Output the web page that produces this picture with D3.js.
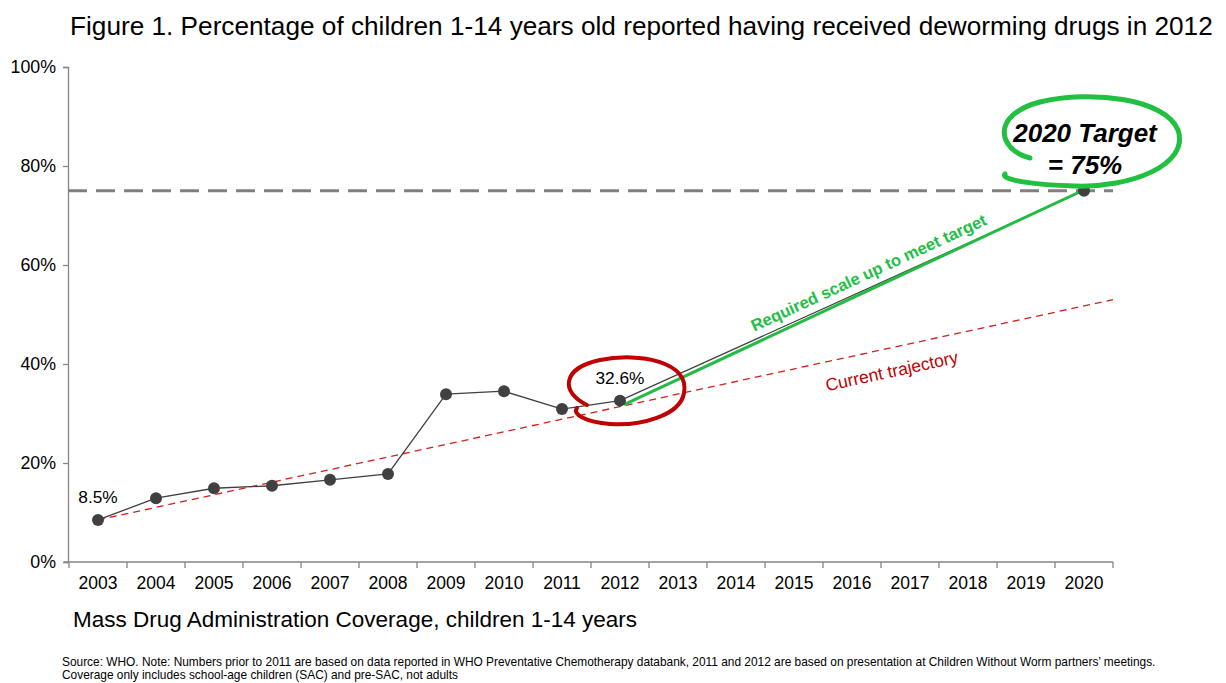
<!DOCTYPE html>
<html><head><meta charset="utf-8">
<script src="https://cdn.jsdelivr.net/npm/d3@7"></script>
<style>body{margin:0;background:#fff}svg{display:block}text{font-family:"Liberation Sans",Arial,sans-serif}</style>
</head><body>
<svg id="c" width="1226" height="683"></svg>
<script>
const years = ["2003","2004","2005","2006","2007","2008","2009","2010","2011","2012","2013","2014","2015","2016","2017","2018","2019","2020"];
const obsYears = ["2003","2004","2005","2006","2007","2008","2009","2010","2011","2012","2020"];
const coverage = [8.5,12.9,14.9,15.4,16.6,17.8,33.9,34.5,30.9,32.6,75];
const yTicks = [0,20,40,60,80,100];
const target = 75;
const trajectoryYears = [2003, 2020.5];
const trajectoryValues = [8.5, 53];
const requiredYears = [2012, 2020];
const requiredValues = [31.8, 75];
const labels = [{year:"2003", value:8.5, text:"8.5%"},{year:"2012", value:32.6, text:"32.6%"}];

const svg = d3.select("#c");
const x = d3.scaleBand().domain(years).range([69,1113]);
const y = d3.scaleLinear().domain([0,100]).range([562,67]);
const xc = d => x(d) + x.bandwidth()/2;
const xn = n => xc("2003") + (n-2003)*x.step();

// title
svg.append("text").attr("x",70).attr("y",35).attr("font-size",26.2).attr("fill","#000")
  .text("Figure 1. Percentage of children 1-14 years old reported having received deworming drugs in 2012");

// y axis
const ya = svg.append("g").attr("transform","translate(68,0)")
  .call(d3.axisLeft(y).tickValues(yTicks).tickFormat(d=>d+"%").tickSize(5).tickPadding(7));
ya.select(".domain").attr("stroke","#868686").attr("stroke-width",1.3);
ya.selectAll(".tick line").attr("stroke","#868686").attr("stroke-width",1.3);
ya.selectAll(".tick text").attr("font-size",17.8).attr("font-family","Liberation Sans, Arial").attr("fill","#000");

// x axis
const xa = svg.append("g").attr("transform","translate(0,562)")
  .call(d3.axisBottom(x).tickSize(0).tickPadding(15));
xa.select(".domain").attr("stroke","#868686").attr("stroke-width",1.3).attr("d","M64,0H1113");
xa.selectAll(".tick text").attr("font-size",17.5).attr("font-family","Liberation Sans, Arial").attr("fill","#000");
const bounds = years.map(d=>x(d)).concat([x(years[years.length-1])+x.bandwidth()]);
xa.selectAll(".bnd").data(bounds).enter().append("line")
  .attr("x1",d=>d).attr("x2",d=>d).attr("y1",0).attr("y2",6)
  .attr("stroke","#868686").attr("stroke-width",1.3);

svg.append("text").attr("x",73).attr("y",627).attr("font-size",22.5).attr("fill","#000")
  .text("Mass Drug Administration Coverage, children 1-14 years");

// target dashed line
svg.append("line").attr("x1",68).attr("x2",1113).attr("y1",y(target)).attr("y2",y(target))
  .attr("stroke","#808080").attr("stroke-width",3).attr("stroke-dasharray","19,9");

// trajectory
svg.append("line").attr("x1",xn(trajectoryYears[0])).attr("y1",y(trajectoryValues[0]))
  .attr("x2",xn(trajectoryYears[1])).attr("y2",y(trajectoryValues[1]))
  .attr("stroke","#d41f1f").attr("stroke-width",1.3).attr("stroke-dasharray","7,5");

// data line
const line = d3.line().x((d,i)=>xc(obsYears[i])).y(d=>y(d));
svg.append("path").attr("d",line(coverage)).attr("fill","none").attr("stroke","#404040").attr("stroke-width",1.3);

// required line
svg.append("line").attr("x1",xn(requiredYears[0])+4).attr("y1",y(requiredValues[0]))
  .attr("x2",xn(requiredYears[1])-4).attr("y2",y(requiredValues[1])+1)
  .attr("stroke","#22bb44").attr("stroke-width",3);

// points
svg.selectAll(".pt").data(coverage).enter().append("circle")
  .attr("cx",(d,i)=>xc(obsYears[i])).attr("cy",d=>y(d)).attr("r",6).attr("fill","#404040");

// labels
svg.selectAll(".lb").data(labels).enter().append("text")
  .attr("x",d=>xc(d.year)).attr("y",d=>y(d.value)-17).attr("text-anchor","middle")
  .attr("font-size",17.3).attr("fill","#000").text(d=>d.text);

// annotations text
const ang1 = Math.atan2(y(requiredValues[1])-y(requiredValues[0]), xn(2020)-xn(2012))*180/Math.PI;
svg.append("text").attr("transform",`translate(871,278) rotate(${ang1})`).attr("text-anchor","middle")
  .attr("font-family","Open Sans, sans-serif").attr("font-weight","bold").attr("font-size",16.6).attr("fill","#1fbf48")
  .text("Required scale up to meet target");
const ang2 = Math.atan2(y(trajectoryValues[1])-y(trajectoryValues[0]), xn(2020.5)-xn(2003))*180/Math.PI;
svg.append("text").attr("transform",`translate(893,377) rotate(${ang2})`).attr("text-anchor","middle")
  .attr("font-family","Open Sans, sans-serif").attr("font-size",17.5).attr("fill","#c00000")
  .text("Current trajectory");

// red hand-drawn loop
svg.append("path").attr("fill","none").attr("stroke","#c00000").attr("stroke-width",4).attr("stroke-linecap","round")
  .attr("d","M587,405 C560,392 562,368 600,360 C640,352 690,362 684,393 C680,416 640,426 610,424 C585,422 572,414 577,408");

// green loop
svg.append("path").attr("fill","none").attr("stroke","#22c040").attr("stroke-width",5).attr("stroke-linecap","round")
  .attr("d","M1030,158 C998,150 990,115 1040,102 C1090,90 1165,98 1178,130 C1190,165 1130,188 1075,186 C1035,185 1000,180 1005,174");

svg.append("text").attr("x",1085).attr("y",142).attr("text-anchor","middle").attr("font-size",26)
  .attr("font-weight","bold").attr("font-style","italic").attr("fill","#000").text("2020 Target");
svg.append("text").attr("x",1085).attr("y",174).attr("text-anchor","middle").attr("font-size",26)
  .attr("font-weight","bold").attr("font-style","italic").attr("fill","#000").text("= 75%");

// source
svg.append("text").attr("x",62).attr("y",666).attr("font-size",11.9).attr("fill","#000")
  .text("Source: WHO. Note: Numbers prior to 2011 are based on data reported in WHO Preventative Chemotherapy databank, 2011 and 2012 are based on presentation at Children Without Worm partners’ meetings.");
svg.append("text").attr("x",62).attr("y",679).attr("font-size",11.9).attr("fill","#000")
  .text("Coverage only includes school-age children (SAC) and pre-SAC, not adults");
</script>
</body></html>
